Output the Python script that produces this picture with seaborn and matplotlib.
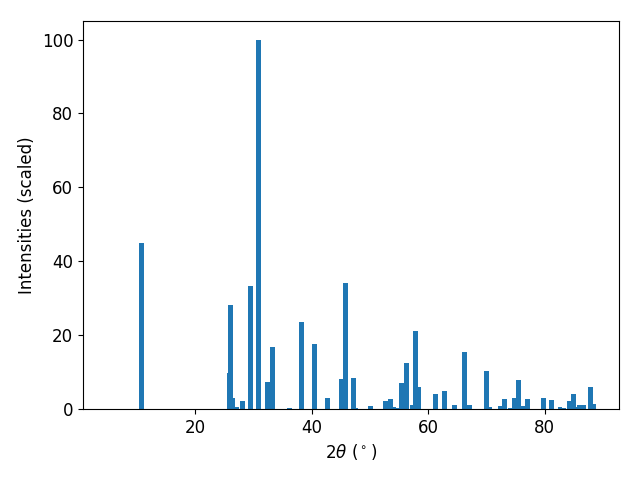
import matplotlib
matplotlib.use("Agg")
import matplotlib.pyplot as plt
import seaborn as sns

# peak positions (2theta, degrees) and scaled intensities
two_theta = [10.84, 25.9, 26.1, 26.5, 27.1, 28.2, 29.5, 30.9, 32.45, 33.3,
             36.2, 38.3, 40.5, 42.7, 45.1, 45.8, 47.2, 47.6, 50.1, 52.7,
             53.55, 54.0, 54.75, 55.45, 56.3, 57.3, 57.85, 58.35, 61.3, 62.8,
             64.5, 66.25, 67.1, 70.0, 70.5, 72.4, 73.1, 74.0, 74.8, 75.5,
             76.2, 77.05, 79.8, 81.2, 82.6, 83.2, 84.25, 84.9, 85.3, 86.0,
             86.6, 87.85, 88.3]
intensity = [45.0, 9.7, 28.2, 3.0, 0.4, 2.2, 33.3, 100.0, 7.3, 16.8,
             0.35, 23.6, 17.6, 3.0, 8.1, 34.1, 8.4, 0.3, 0.8, 2.2,
             2.7, 0.4, 0.3, 7.0, 12.5, 1.1, 21.1, 6.0, 4.1, 4.9,
             1.1, 15.4, 1.1, 10.3, 0.5, 0.8, 2.7, 0.3, 3.0, 7.9,
             0.8, 2.7, 3.0, 2.4, 0.6, 0.3, 2.2, 4.1, 0.5, 1.1,
             1.1, 6.0, 1.4]

plt.rcParams['font.size'] = 12
color = sns.color_palette()[0]

fig, ax = plt.subplots(figsize=(6.4, 4.8), dpi=100)
ax.bar(two_theta, intensity, width=0.8, color=color)
ax.set_xlim(0.8, 92.7)
ax.set_xlabel(r'$2\theta$ ($^\circ$)')
ax.set_ylabel('Intensities (scaled)')
fig.subplots_adjust(left=0.1297, right=0.967, top=0.956, bottom=0.148)
fig.savefig('out.png')
